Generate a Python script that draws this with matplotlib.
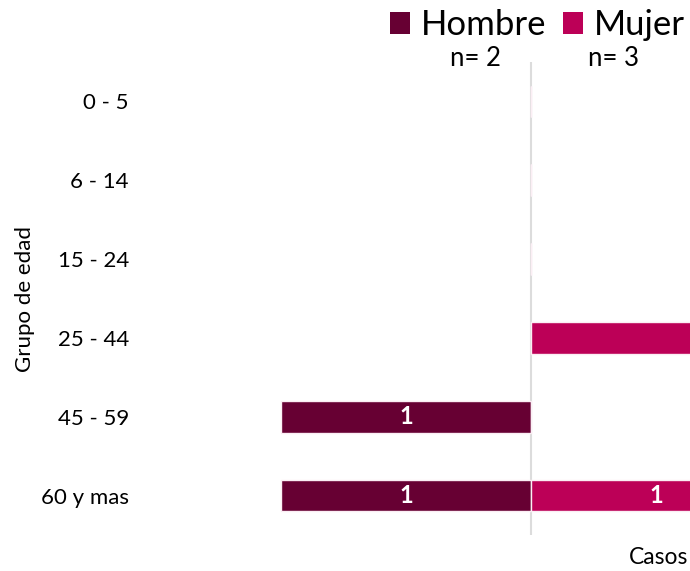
import matplotlib.pyplot as plt
from matplotlib.patches import Patch

grupos = ['0 - 5', '6 - 14', '15 - 24', '25 - 44', '45 - 59', '60 y mas']
hombre = [0, 0, 0, 0, 1, 1]
mujer = [0, 0, 0, 2, 0, 1]
n_hombre = sum(hombre)
n_mujer = sum(mujer)

C_H = '#670033'
C_M = '#BC0057'
FONT = ['Lato', 'DejaVu Sans']

plt.rcParams['font.family'] = FONT

W, H = 690, 571
XMIN, XMAX = -1.563, 0.633
fig = plt.figure(figsize=(W / 100, H / 100), dpi=100)
# axes in pixel coords: left 140, right 690, top 62, bottom 535
ax = fig.add_axes([140 / W, 1 - 535 / H, (690 - 140) / W, (535 - 62) / H])

y = list(range(len(grupos)))
ax.barh(y, [-v for v in hombre], height=0.4, color=C_H,
        edgecolor='#fbeef4', linewidth=1.0, zorder=2)
ax.barh(y, mujer, height=0.4, color=C_M,
        edgecolor='#fbeef4', linewidth=1.0, zorder=2)

# value labels, only where the bar centre is inside the visible range
for yi, v in zip(y, hombre):
    if v > 0 and -v / 2 > XMIN:
        ax.text(-v / 2, yi, str(v), ha='center', va='center', color='white',
                fontsize=17, fontweight='bold', zorder=3)
for yi, v in zip(y, mujer):
    if v > 0 and v / 2 < XMAX:
        ax.text(v / 2, yi, str(v), ha='center', va='center', color='white',
                fontsize=17, fontweight='bold', zorder=3)

ax.axvline(0, color='#dcdcdc', linewidth=1.5, zorder=1)

ax.set_xlim(XMIN, XMAX)
ax.set_ylim(5.5, -0.5)
ax.set_yticks(y)
ax.set_yticklabels(grupos, fontsize=16)
ax.tick_params(axis='y', length=0, pad=8)
ax.set_xticks([])
for s in ax.spines.values():
    s.set_visible(False)

fig.text(25 / W, 1 - 299 / H, 'Grupo de edad', rotation=90, ha='center',
         va='center', fontsize=16)
fig.text(688 / W, 1 - 557 / H, 'Casos', ha='right', va='center', fontsize=16.5)

handles = [Patch(facecolor=C_H, label='Hombre'), Patch(facecolor=C_M, label='Mujer')]
fig.legend(handles=handles, loc='upper right', bbox_to_anchor=(1.0, 0.993),
           ncol=2, frameon=False, fontsize=25, handlelength=0.58,
           handleheight=0.58, handletextpad=0.3, columnspacing=0.5,
           borderaxespad=0.0, borderpad=0.15)

fig.text(475 / W, 1 - 58 / H, f'n= {n_hombre}', ha='center', va='center', fontsize=18.5)
fig.text(613 / W, 1 - 58 / H, f'n= {n_mujer}', ha='center', va='center', fontsize=18.5)

fig.savefig('out.png', dpi=100)
